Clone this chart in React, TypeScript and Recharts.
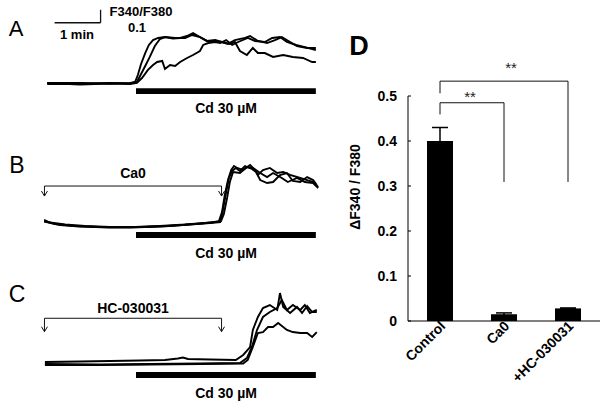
import React from "react";
import {
  Bar,
  BarChart,
  ComposedChart,
  ErrorBar,
  Line,
  ReferenceArea,
  ReferenceLine,
  XAxis,
  YAxis,
} from "recharts";

const FONT = '"Liberation Sans", Arial, sans-serif';

// traces: [time (min), change in F340/F380]
const traceA1: [number, number][] = [
  [0.07, -0.006], [0.78, -0.006], [1.43, 0.002], [1.87, -0.002], [1.98, 0.009],
  [2.04, 0.063], [2.11, 0.148], [2.2, 0.232], [2.28, 0.294], [2.37, 0.332],
  [2.48, 0.348], [2.63, 0.355], [2.8, 0.344], [2.96, 0.348], [3.11, 0.363],
  [3.24, 0.386], [3.39, 0.355], [3.54, 0.325], [3.76, 0.325], [4.0, 0.302],
  [4.15, 0.332], [4.37, 0.348], [4.48, 0.363], [4.65, 0.325], [4.85, 0.309],
  [5.02, 0.332], [5.17, 0.355], [5.35, 0.317], [5.5, 0.286], [5.72, 0.271],
  [5.91, 0.271],
];
const traceA2: [number, number][] = [
  [0.07, 0.002], [0.78, 0.002], [1.43, -0.002], [1.87, 0.002], [2.02, 0.009],
  [2.2, 0.132], [2.3, 0.202], [2.41, 0.286], [2.52, 0.34], [2.63, 0.355],
  [2.85, 0.348], [3.07, 0.348], [3.22, 0.371], [3.39, 0.355], [3.54, 0.325],
  [3.72, 0.332], [3.87, 0.317], [4.04, 0.302], [4.15, 0.317], [4.26, 0.248],
  [4.41, 0.217], [4.54, 0.271], [4.65, 0.232], [4.8, 0.232], [4.98, 0.202],
  [5.2, 0.217], [5.41, 0.202], [5.63, 0.194], [5.83, 0.163], [5.91, 0.163],
];
const traceA3: [number, number][] = [
  [0.07, 0.002], [0.78, -0.01], [1.43, -0.002], [1.87, -0.006], [2.02, 0.002],
  [2.13, 0.04], [2.26, 0.102], [2.37, 0.14], [2.46, 0.163], [2.57, 0.171],
  [2.63, 0.109], [2.74, 0.14], [2.85, 0.132], [2.96, 0.163], [3.11, 0.194],
  [3.24, 0.217], [3.39, 0.248], [3.46, 0.294], [3.57, 0.309], [3.72, 0.317],
  [3.83, 0.309], [3.96, 0.332], [4.09, 0.294], [4.22, 0.317], [4.43, 0.348],
  [4.59, 0.325], [4.8, 0.317], [4.96, 0.348], [5.13, 0.355], [5.28, 0.317],
  [5.48, 0.294], [5.67, 0.278], [5.91, 0.255],
];

const traceB1: [number, number][] = [
  [0, 0.008], [0.13, -0.012], [0.46, -0.027], [0.89, -0.038], [1.43, -0.046],
  [1.98, -0.046], [2.52, -0.038], [3.07, -0.027], [3.5, -0.015], [3.8, -0.004],
  [3.87, 0.069], [3.93, 0.2], [4.0, 0.315], [4.07, 0.392], [4.13, 0.423],
  [4.2, 0.408], [4.33, 0.392], [4.48, 0.431], [4.59, 0.392], [4.65, 0.354],
  [4.76, 0.392], [4.91, 0.408], [5.07, 0.369], [5.2, 0.377], [5.35, 0.354],
  [5.57, 0.331], [5.72, 0.315], [5.85, 0.3], [5.96, 0.262],
];
const traceB2: [number, number][] = [
  [0, 0], [0.24, -0.023], [0.67, -0.038], [1.22, -0.046], [1.87, -0.05],
  [2.52, -0.042], [3.17, -0.027], [3.61, -0.015], [3.83, -0.008], [3.89, 0.085],
  [3.96, 0.223], [4.02, 0.331], [4.09, 0.385], [4.17, 0.408], [4.26, 0.385],
  [4.37, 0.423], [4.52, 0.4], [4.61, 0.377], [4.7, 0.315], [4.85, 0.292],
  [4.98, 0.3], [5.13, 0.354], [5.28, 0.369], [5.41, 0.308], [5.57, 0.3],
  [5.72, 0.338], [5.85, 0.315], [5.93, 0.277],
];
const traceB3: [number, number][] = [
  [0, -0.004], [0.35, -0.031], [0.78, -0.042], [1.43, -0.05], [2.09, -0.046],
  [2.74, -0.038], [3.28, -0.023], [3.65, -0.012], [3.85, 0], [3.91, 0.054],
  [3.98, 0.177], [4.04, 0.3], [4.11, 0.377], [4.26, 0.369], [4.41, 0.415],
  [4.54, 0.408], [4.7, 0.369], [4.85, 0.338], [4.98, 0.369], [5.17, 0.331],
  [5.3, 0.3], [5.5, 0.331], [5.67, 0.3], [5.85, 0.292], [5.96, 0.254],
];

const traceC1: [number, number][] = [
  [0.02, 0.008], [0.78, 0.012], [1.43, 0.015], [2.09, 0.019], [2.63, 0.023],
  [2.91, 0.035], [3.02, 0.042], [3.13, 0.031], [3.61, 0.027], [4.17, 0.023],
  [4.33, 0.062], [4.48, 0.123], [4.54, 0.254], [4.65, 0.354], [4.76, 0.423],
  [4.91, 0.446], [5.07, 0.408], [5.13, 0.538], [5.2, 0.431], [5.35, 0.385],
  [5.5, 0.431], [5.61, 0.385], [5.72, 0.438], [5.83, 0.392], [5.93, 0.392],
];
const traceC2: [number, number][] = [
  [0.02, -0.008], [1.22, -0.012], [2.3, -0.008], [3.39, -0.004], [4.26, 0],
  [4.41, 0.038], [4.52, 0.123], [4.63, 0.254], [4.76, 0.354], [4.91, 0.392],
  [5.07, 0.423], [5.17, 0.485], [5.28, 0.408], [5.41, 0.446], [5.57, 0.408],
  [5.67, 0.446], [5.78, 0.385], [5.93, 0.408],
];
const traceC3: [number, number][] = [
  [0.02, -0.015], [1.22, -0.015], [2.3, -0.012], [3.39, -0.008], [4.33, -0.004],
  [4.43, 0.023], [4.54, 0.123], [4.65, 0.231], [4.76, 0.238], [4.87, 0.277],
  [4.98, 0.277], [5.09, 0.308], [5.28, 0.254], [5.41, 0.238], [5.57, 0.231],
  [5.72, 0.231], [5.83, 0.2], [5.93, 0.238],
];

// treatment timing (min)
const CD_START = 2.0;
const CD_END = 5.91;
const PRE_START = 0.01;
const PRE_END = 3.86;

// panel D
const groups = ["Control", "Ca0", "+HC-030031"];
const means = [0.4, 0.015, 0.028];
const sems = [0.03, 0.003, 0.001];
const ticksD = [0, 0.1, 0.2, 0.3, 0.4, 0.5];

const barData = groups.map((name, i) => ({ name, value: means[i], err: sems[i] }));

// drawing scale of the trace panels
const MIN_PX = 46;
const UNIT_PX = 130;

type Seg = [[any, number], [any, number]];

function segLines(segs: Seg[], key: string, width = 1) {
  return segs.map((s, i) => (
    <ReferenceLine
      key={key + i}
      segment={[
        { x: s[0][0], y: s[0][1] },
        { x: s[1][0], y: s[1][1] },
      ]}
      stroke="#111"
      strokeWidth={width}
      ifOverflow="visible"
    />
  ));
}

function arrows(vLine: number, vTip: number) {
  const dt = 3 / MIN_PX;
  const dv = 5 / UNIT_PX;
  const segs: Seg[] = [
    [[PRE_START, vLine], [PRE_END, vLine]],
    [[PRE_START, vLine], [PRE_START, vTip]],
    [[PRE_END, vLine], [PRE_END, vTip]],
  ];
  for (const t of [PRE_START, PRE_END]) {
    segs.push([[t - dt, vTip + dv], [t, vTip]]);
    segs.push([[t + dt, vTip + dv], [t, vTip]]);
  }
  return segLines(segs, "arr");
}

function TracePanel({
  traces,
  top,
  domain,
  cd,
  extra,
}: {
  traces: [number, number][][];
  top: number;
  domain: [number, number];
  cd: [number, number];
  extra?: React.ReactNode;
}) {
  return (
    <div style={{ position: "absolute", left: 0, top, width: 340, height: 130 }}>
      <ComposedChart width={340} height={130} margin={{ top: 0, right: 20, bottom: 0, left: 44 }}>
        <XAxis type="number" dataKey="t" domain={[0, 6]} hide allowDataOverflow />
        <YAxis type="number" domain={domain} hide allowDataOverflow />
        <ReferenceArea
          x1={CD_START}
          x2={CD_END}
          y1={cd[0]}
          y2={cd[1]}
          fill="#000"
          fillOpacity={1}
          stroke="none"
          ifOverflow="visible"
        />
        {extra}
        {traces.map((tr, i) => (
          <Line
            key={i}
            data={tr.map(([t, v]) => ({ t, v }))}
            dataKey="v"
            type="linear"
            stroke="#000"
            strokeWidth={1.9}
            dot={false}
            isAnimationActive={false}
          />
        ))}
      </ComposedChart>
    </div>
  );
}

function GroupTick({ x, y, payload }: any) {
  return (
    <g transform={`translate(${x},${y})`}>
      <text
        x={6}
        y={3}
        textAnchor="end"
        transform="rotate(-45)"
        fontFamily={FONT}
        fontWeight="bold"
        fontSize={14}
        fill="#000"
      >
        {payload.value}
      </text>
    </g>
  );
}

export default function App() {
  const bold = { fontFamily: FONT, fontWeight: "bold" as const, fill: "#000" };
  return (
    <div
      style={{
        position: "absolute",
        left: 0,
        top: 0,
        width: 600,
        height: 405,
        background: "#fff",
        overflow: "hidden",
      }}
    >
      <TracePanel
        traces={[traceA1, traceA2, traceA3]}
        top={0}
        domain={[-0.36, 0.64]}
        cd={[-0.039, -0.083]}
        extra={segLines(
          [
            [[0.23, 0.465], [1.23, 0.465]],
            [[1.23, 0.465], [1.23, 0.565]],
          ],
          "scale",
          1.3
        )}
      />
      <TracePanel
        traces={[traceB1, traceB2, traceB3]}
        top={130}
        domain={[-0.3, 0.7]}
        cd={[-0.085, -0.131]}
        extra={arrows(0.269, 0.192)}
      />
      <TracePanel
        traces={[traceC1, traceC2, traceC3]}
        top={272}
        domain={[-0.3, 0.7]}
        cd={[-0.069, -0.115]}
        extra={arrows(0.344, 0.241)}
      />

      <div style={{ position: "absolute", left: 340, top: 0, width: 260, height: 405 }}>
        <BarChart
          width={260}
          height={405}
          data={barData}
          margin={{ top: 96, right: 0, bottom: 54, left: 8 }}
          barSize={26}
        >
          <XAxis
            dataKey="name"
            axisLine={{ stroke: "#000" }}
            tickLine={false}
            height={30}
            interval={0}
            tick={<GroupTick />}
          />
          <YAxis
            width={60}
            domain={[0, 0.5]}
            ticks={ticksD}
            axisLine={{ stroke: "#000" }}
            tickLine={{ stroke: "#000" }}
            tickSize={-3}
            tickMargin={14}
            tick={{ fontFamily: FONT, fontWeight: "bold", fontSize: 14, fill: "#000" }}
          />
          <Bar dataKey="value" fill="#000" isAnimationActive={false}>
            <ErrorBar dataKey="err" width={8} stroke="#000" strokeWidth={1.5} direction="y" isAnimationActive={false} />
          </Bar>
          {segLines(
            [
              [["Control", 0.533], ["+HC-030031", 0.533]],
              [["Control", 0.533], ["Control", 0.506]],
              [["+HC-030031", 0.533], ["+HC-030031", 0.309]],
              [["Control", 0.485], ["Ca0", 0.485]],
              [["Control", 0.485], ["Control", 0.459]],
              [["Ca0", 0.485], ["Ca0", 0.309]],
            ],
            "sig"
          )}
        </BarChart>
      </div>

      <svg
        width={600}
        height={405}
        style={{ position: "absolute", left: 0, top: 0, pointerEvents: "none" }}
      >
        <g fontFamily={FONT} dominantBaseline="central" textAnchor="middle">
          <text x={16} y={28} fontSize={22} fill="#000">A</text>
          <text x={17} y={165} fontSize={23} fill="#000">B</text>
          <text x={17} y={294} fontSize={23} fill="#000">C</text>
          <text x={359} y={46} fontSize={27} {...bold}>D</text>

          <text x={77} y={34} fontSize={13} {...bold}>1 min</text>
          <text x={141} y={11} fontSize={13} {...bold}>F340/F380</text>
          <text x={137} y={27} fontSize={13} {...bold}>0.1</text>

          <text x={226} y={108} fontSize={14} {...bold}>Cd 30 µM</text>
          <text x={226} y={253} fontSize={14} {...bold}>Cd 30 µM</text>
          <text x={226} y={393} fontSize={14} {...bold}>Cd 30 µM</text>
          <text x={133} y={173} fontSize={14} {...bold}>Ca0</text>
          <text x={133} y={308} fontSize={14} {...bold}>HC-030031</text>

          <text x={511} y={67} fontSize={15} fill="#222">**</text>
          <text x={470} y={96} fontSize={15} fill="#222">**</text>

          <text
            x={355}
            y={187}
            fontSize={14}
            transform="rotate(-90 355 187)"
            {...bold}
          >
            ΔF340 / F380
          </text>
        </g>
      </svg>
    </div>
  );
}
